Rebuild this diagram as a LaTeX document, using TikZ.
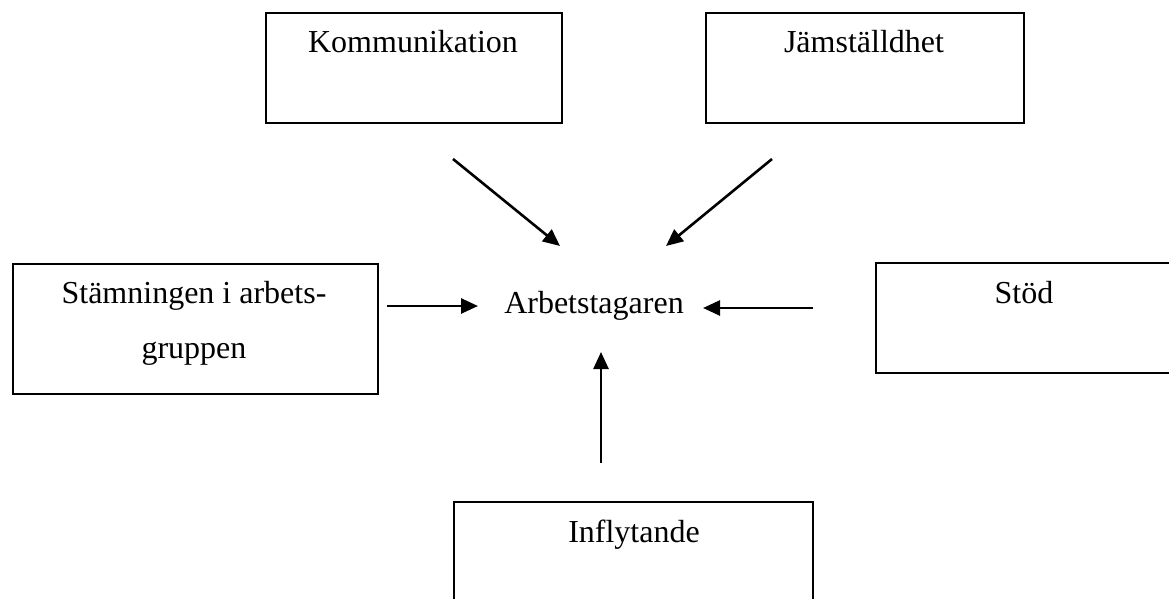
\documentclass[tikz,border=0pt]{standalone}
\usepackage{fontspec}
\setmainfont{Liberation Serif}
\usetikzlibrary{arrows.meta}
\begin{document}
\begin{tikzpicture}[x=1pt,y=-1pt,
  box/.style={draw=black,line width=2pt,rectangle,inner sep=0pt,anchor=north west},
  lab/.style={anchor=base,inner sep=0pt,font=\fontsize{32}{55}\selectfont},
  arr/.style={line width=2.6pt,-{Triangle[length=17pt,width=15pt]}}]
\clip (0,0) rectangle (1169,599);
\fill[white] (0,0) rectangle (1169,599);
% boxes
\node[box,minimum width=296pt,minimum height=110pt] (kom) at (265,12) {};
\node[box,minimum width=318pt,minimum height=110pt] (jam) at (705,12) {};
\node[box,minimum width=365pt,minimum height=130pt] (stam) at (12,263) {};
\node[box,minimum width=330pt,minimum height=110pt] (stod) at (875,262) {};
\node[box,minimum width=359pt,minimum height=150pt] (infl) at (453,501) {};
% labels
\node[lab] (komt) at (413,53) {Kommunikation};
\node[lab] (jamt) at (864,53) {Jämställdhet};
\node[lab] (stamt1) at (194,303) {Stämningen i arbets-};
\node[lab] (stamt2) at (194,358) {gruppen};
\node[lab] (stodt) at (1024,303) {Stöd};
\node[lab] (inflt) at (634,542) {Inflytande};
\node[lab] (arb) at (594,313) {Arbetstagaren};
% arrow endpoints
\coordinate (a1s) at (453,159); \coordinate (a1e) at (560,246);
\coordinate (a2s) at (772,159); \coordinate (a2e) at (666,246);
\coordinate (a3s) at (387,306); \coordinate (a3e) at (478,306);
\coordinate (a4s) at (813,308); \coordinate (a4e) at (703,308);
\coordinate (a5s) at (601,463); \coordinate (a5e) at (601,352);
\draw[arr] (a1s) -- (a1e);
\draw[arr] (a2s) -- (a2e);
\draw[arr] (a3s) -- (a3e);
\draw[arr] (a4s) -- (a4e);
\draw[arr] (a5s) -- (a5e);
\end{tikzpicture}
\end{document}
